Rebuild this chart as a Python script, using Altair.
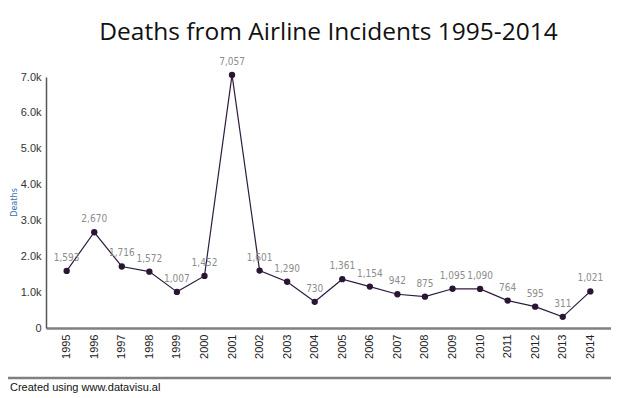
import altair as alt
import pandas as pd

years = [str(y) for y in range(1995, 2015)]
deaths = [1593, 2670, 1716, 1572, 1007, 1452, 7057, 1601, 1290, 730,
          1361, 1154, 942, 875, 1095, 1090, 764, 595, 311, 1021]

df = pd.DataFrame({"year": years, "deaths": deaths})
footer = pd.DataFrame({"text": ["Created using www.datavisu.al"]})

W, H = 565, 251
COND = "DejaVu Sans Condensed"

x = alt.X("year:O", title=None,
          scale=alt.Scale(type="point", padding=0.75),
          axis=alt.Axis(labelAngle=-90, labelFont="Liberation Sans", labelFontSize=11,
                        labelColor="#222", ticks=False, labelPadding=6,
                        domainColor="#808080", domainWidth=2.5, labelBaseline="middle",
                        labelAlign="right"))
y = alt.Y("deaths:Q", title="Deaths",
          scale=alt.Scale(domain=[0, 7000], nice=False),
          axis=alt.Axis(values=[0, 1000, 2000, 3000, 4000, 5000, 6000, 7000],
                        labelExpr="datum.value == 0 ? '0' : format(datum.value, '.2s')",
                        labelFont="Liberation Sans", labelFontSize=11, labelColor="#333",
                        ticks=False, labelPadding=5, grid=False,
                        domainColor="#555", domainWidth=1.5,
                        titleFont=COND, titleFontSize=9,
                        titleFontWeight="normal", titleColor="#3a6fb0",
                        titleX=-33, titleY=125, titleBaseline="middle", titleAlign="center",
                        titleAngle=270))

base = alt.Chart(df).encode(x=x, y=y)
line = base.mark_line(color="#2e1c3c", strokeWidth=1.2)
pts = base.mark_point(filled=True, color="#2a1535", size=40, opacity=1)
labels = base.mark_text(dy=-13, font=COND, fontSize=10,
                        color="#8c8c8c").encode(text=alt.Text("deaths:Q", format=","))

rule = alt.Chart(footer).mark_rule(color="#808080", strokeWidth=2.5).encode(
    x=alt.value(-46), x2=alt.value(580), y=alt.value(301))
ftext = alt.Chart(footer).mark_text(align="left", baseline="middle",
                                    font="Liberation Sans", fontSize=11,
                                    color="#111").encode(
    x=alt.value(-36), y=alt.value(311), text="text:N")

chart = alt.layer(line, pts, labels, rule, ftext).properties(
    width=W, height=H,
    title=alt.TitleParams("Deaths from Airline Incidents 1995-2014",
                          font="Open Sans", fontSize=24.5, fontWeight="normal",
                          color="#111", anchor="middle", offset=11),
    autosize=alt.AutoSizeParams(type="none"),
    padding={"left": 38, "top": 69, "right": 0, "bottom": 70},
).configure_view(stroke=None)

chart.save("out.html", embed_options={"renderer": "svg", "actions": False})
